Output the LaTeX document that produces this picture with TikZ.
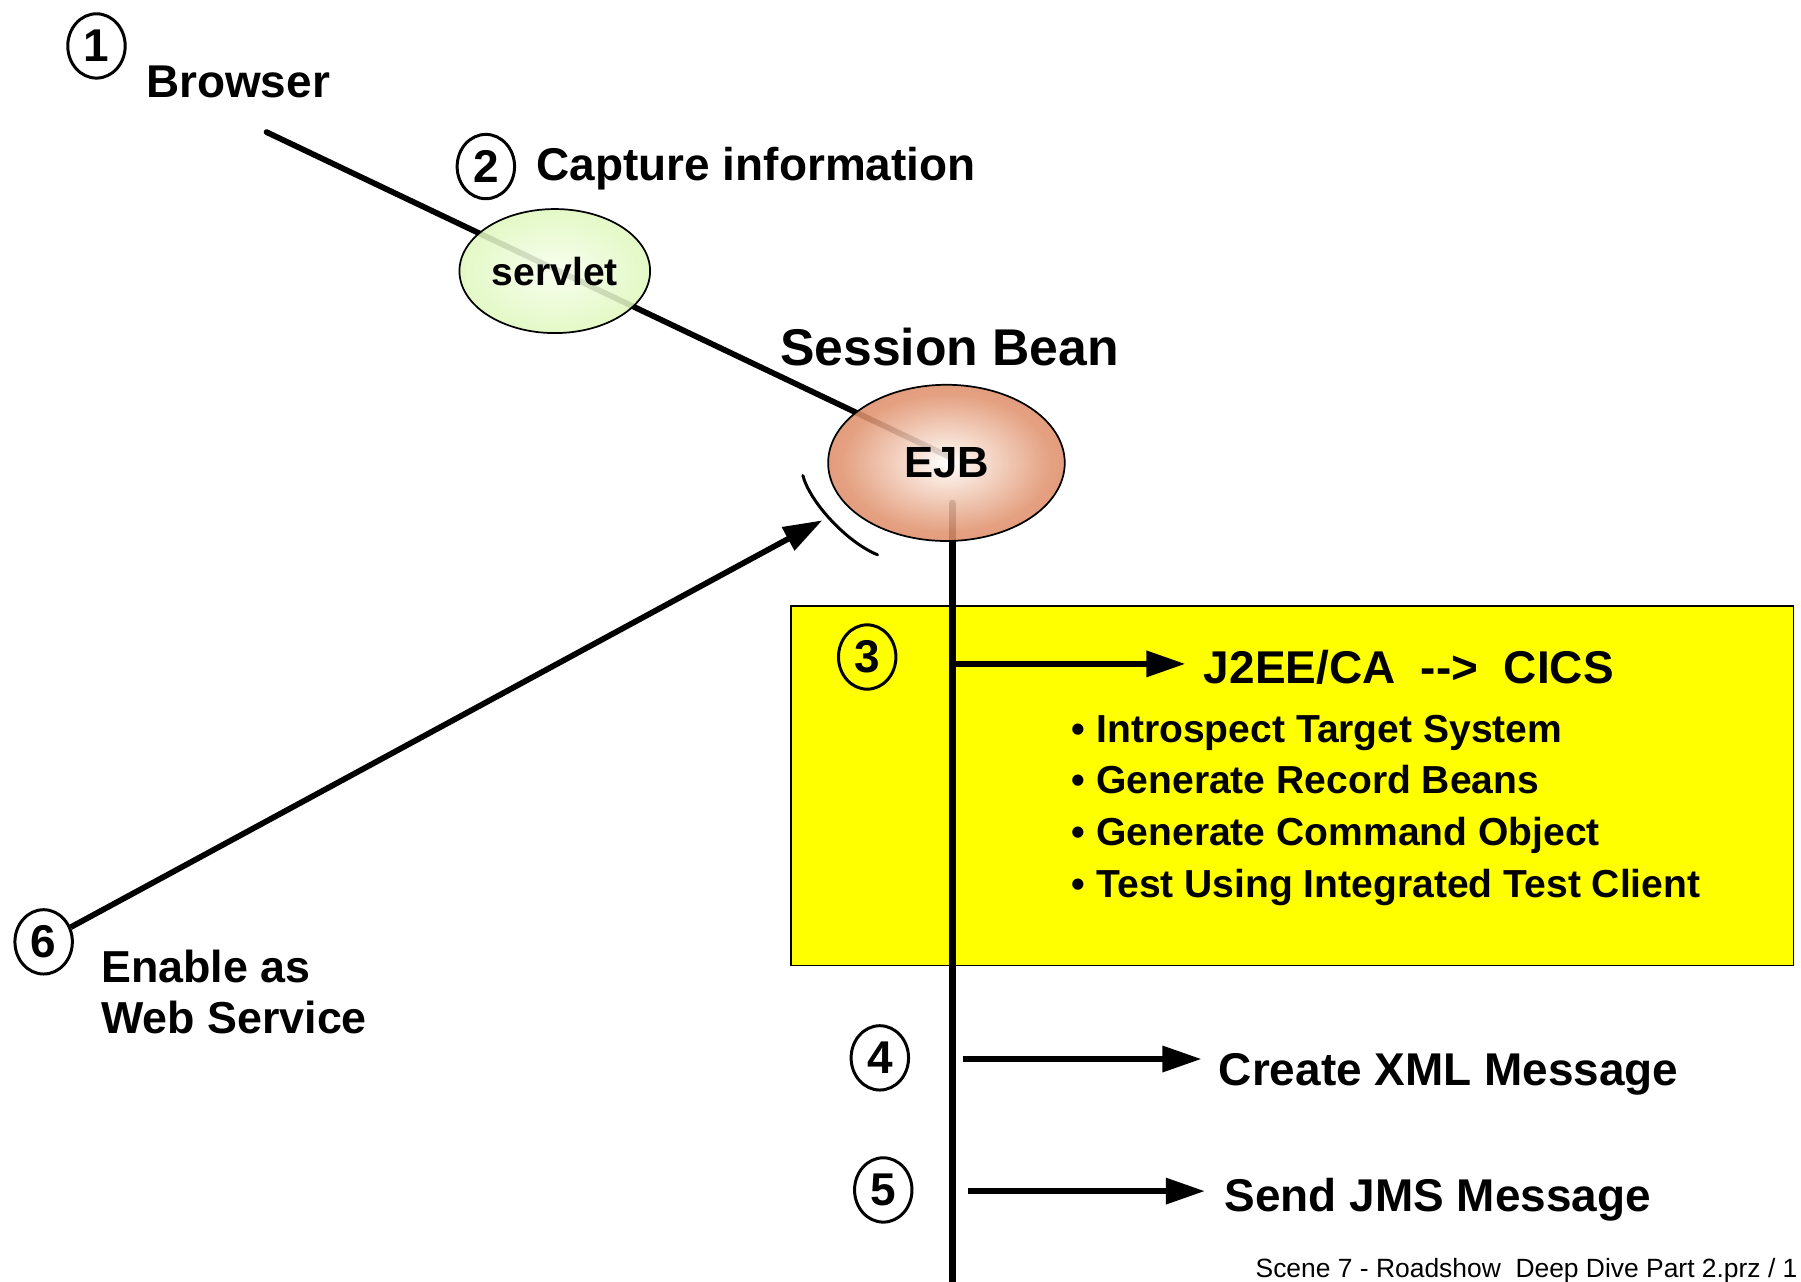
\documentclass[tikz,border=0pt]{standalone}
\usepackage{fontspec}
\setmainfont{Liberation Sans}
\usetikzlibrary{arrows.meta,shapes.geometric}
\definecolor{boxyellow}{RGB}{255,255,0}
\pgfdeclareradialshading{ejbshade}{\pgfpoint{0bp}{0bp}}{rgb(0bp)=(1,1,1); rgb(6bp)=(0.97,0.88,0.83); rgb(22bp)=(0.88,0.58,0.44); rgb(50bp)=(0.80,0.43,0.28)}
\pgfdeclareradialshading{servletshade}{\pgfpoint{0bp}{0bp}}{rgb(0bp)=(0.97,1,0.93); rgb(50bp)=(0.78,0.94,0.56)}
\begin{document}
\begin{tikzpicture}[x=1pt,y=-1pt,
  num/.style={draw, line width=2.6pt, ellipse, minimum width=50pt, minimum height=56pt, inner sep=0pt, font=\fontsize{40}{40}\bfseries},
  lbl/.style={anchor=base west, inner sep=0pt, font=\fontsize{40}{40}\bfseries},
  bul/.style={anchor=base west, inner sep=0pt, font=\fontsize{34}{34}\bfseries},
  conn/.style={line width=5pt},
  arr/.style={line width=5pt, -{Triangle[length=34pt,width=22pt]}},
  bean/.style={ellipse, draw, line width=1.5pt, inner sep=0pt, fill opacity=0.88, text opacity=1}
]
\useasboundingbox (0,0) rectangle (1568,1116);

% yellow box
\node[draw, fill=boxyellow, line width=1.2pt, anchor=north west, minimum width=873pt, minimum height=313pt, inner sep=0pt] (box) at (688,527) {};

% main lines
\coordinate (bstart) at (232,115);
\coordinate (ejbin) at (827,398);
\coordinate (vtop) at (829,438);
\coordinate (vbot) at (829,1130);
\draw[conn, line cap=round] (bstart) -- (ejbin);
\draw[line width=6pt, line cap=round] (vtop) -- (vbot);

% beans
\node[bean, shading=servletshade, minimum width=166pt, minimum height=108pt, font=\fontsize{34}{34}\bfseries] (servlet) at (483,236) {servlet};
\node[bean, shading=ejbshade, minimum width=206pt, minimum height=136pt, font=\fontsize{38}{38}\bfseries] (ejb) at (824,403) {EJB};

% labels top
\node[num] (c1) at (84,40) {1};
\node[lbl] (browser) at (127,85) {Browser};
\node[num] (c2) at (423,145) {2};
\node[lbl] (capture) at (467,157) {Capture information};
\node[anchor=base west, inner sep=0pt, font=\fontsize{45}{45}\bfseries] (sbean) at (679,318) {Session Bean};

% arc and arrow 6
\coordinate (arcA) at (699,414);
\coordinate (arcB) at (764,483);
\draw[line width=2.6pt, line cap=round] (arcA) .. controls (705,437) and (737,472) .. (arcB);
\node[num] (c6) at (38,820) {6};
\coordinate (tip6) at (716,453);
\draw[arr] (c6) -- (tip6);
\node[lbl, font=\fontsize{39}{39}\bfseries] (enable) at (88,855) {Enable as};
\node[lbl, font=\fontsize{39}{39}\bfseries] (websvc) at (88,900) {Web Service};

% step 3
\node[num] (c3) at (755,572) {3};
\coordinate (a3s) at (826,578);
\coordinate (a3e) at (1032,578);
\draw[arr] (a3s) -- (a3e);
\node[lbl] (j2ee) at (1048,595) {J2EE/CA\ \ {-}{-}>\ \ CICS};
\node[bul] (b1) at (933,646) {• Introspect Target System};
\node[bul] (b2) at (933,691) {• Generate Record Beans};
\node[bul] (b3) at (933,736) {• Generate Command Object};
\node[bul] (b4) at (933,781) {• Test Using Integrated Test Client};

% step 4
\node[num] (c4) at (766,921) {4};
\coordinate (a4s) at (838,922);
\coordinate (a4e) at (1046,922);
\draw[arr] (a4s) -- (a4e);
\node[lbl] (xml) at (1061,945) {Create XML Message};

% step 5
\node[num] (c5) at (769,1036) {5};
\coordinate (a5s) at (843,1037);
\coordinate (a5e) at (1049,1037);
\draw[arr] (a5s) -- (a5e);
\node[lbl] (jms) at (1066,1055) {Send JMS Message};

% footer
\node[anchor=base west, inner sep=0pt, font=\fontsize{23}{23}\selectfont] (footer) at (1093,1112) {Scene 7 - Roadshow\ \ Deep Dive Part 2.prz / 1};
\end{tikzpicture}
\end{document}
